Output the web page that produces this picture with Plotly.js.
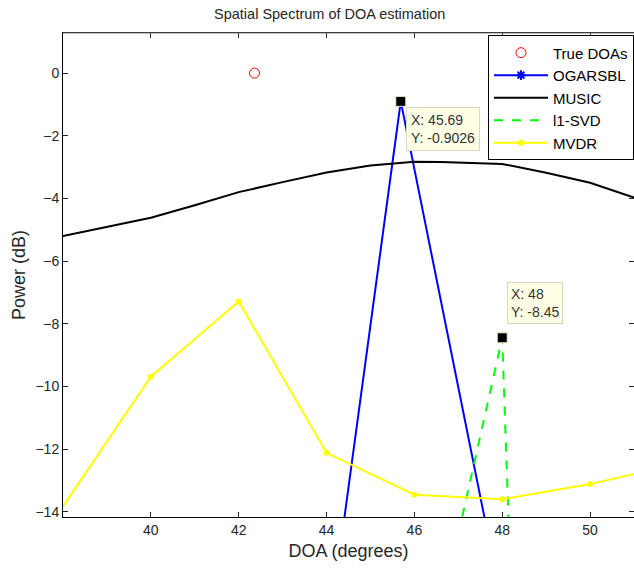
<!DOCTYPE html>
<html>
<head>
<meta charset="utf-8">
<script src="https://cdn.plot.ly/plotly-3.0.1.min.js"></script>
<style>body{margin:0;padding:0;background:#fff;} #chart{width:634px;height:570px;}</style>
</head>
<body>
<div id="chart"></div>
<script>
// ---- Data ----
var trueDoaX = [42.36];
var trueDoaY = [0];

var ogarsblX = [44, 45.69, 48];
var ogarsblY = [-18.4, -0.9026, -17.0];

var musicX = [38, 39, 40, 41, 42, 43, 44, 45, 46, 46.6, 47.4, 48, 49, 50, 51];
var musicY = [-5.2, -4.92, -4.62, -4.22, -3.8, -3.48, -3.17, -2.95, -2.83, -2.84, -2.87, -2.9, -3.18, -3.5, -3.97];

var l1svdX = [47, 48, 48.5];
var l1svdY = [-14.72, -8.45, -28.8];

var mvdrX = [37, 40, 42, 44, 46, 48, 50, 52];
var mvdrY = [-15.9, -9.69, -7.29, -12.12, -13.46, -13.6, -13.12, -12.48];

var tipX = [45.69, 48];
var tipY = [-0.9026, -8.45];
var tipText = ['X: 45.69<br>Y: -0.9026', 'X: 48<br>Y: -8.45'];

var xTicks = [40, 42, 44, 46, 48, 50];
var yTicks = [-14, -12, -10, -8, -6, -4, -2, 0];

var FONT = 'Liberation Sans, Arial, sans-serif';

var traces = [
  {x: trueDoaX, y: trueDoaY, name: 'True DOAs', mode: 'markers', type: 'scatter',
   marker: {symbol: 'circle-open', size: 10, color: '#ff0000', line: {width: 1, color: '#ff0000'}}},
  {x: ogarsblX, y: ogarsblY, name: 'OGARSBL', mode: 'lines+markers', type: 'scatter',
   line: {color: '#0000ff', width: 2},
   marker: {symbol: 'asterisk-open', size: 8, color: '#0000ff', line: {width: 2, color: '#0000ff'}}},
  {x: musicX, y: musicY, name: 'MUSIC', mode: 'lines', type: 'scatter',
   line: {color: '#000000', width: 2}},
  {x: l1svdX, y: l1svdY, name: 'l1-SVD', mode: 'lines', type: 'scatter',
   line: {color: '#00ff00', width: 2, dash: 'dash'}},
  {x: mvdrX, y: mvdrY, name: 'MVDR', mode: 'lines+markers', type: 'scatter',
   line: {color: '#ffff00', width: 2},
   marker: {symbol: 'circle', size: 6, color: '#ffff00'}},
  {x: tipX, y: tipY, mode: 'markers', type: 'scatter', showlegend: false, hoverinfo: 'skip',
   marker: {symbol: 'square', size: 10, color: '#000000', line: {width: 1, color: '#f2efc8'}}}
];

var annotations = [
  {x: tipX[0], y: tipY[0], xref: 'x', yref: 'y', text: tipText[0], showarrow: false,
   xanchor: 'left', yanchor: 'top', xshift: 5, yshift: -6, align: 'left',
   bgcolor: '#ffffe6', bordercolor: '#d8d8c0', borderwidth: 1, borderpad: 4,
   font: {family: FONT, size: 14, color: '#333333'}},
  {x: tipX[1], y: tipY[1], xref: 'x', yref: 'y', text: tipText[1], showarrow: false,
   xanchor: 'left', yanchor: 'bottom', xshift: 5, yshift: 14, align: 'left',
   bgcolor: '#ffffe6', bordercolor: '#d8d8c0', borderwidth: 1, borderpad: 3,
   font: {family: FONT, size: 14, color: '#333333'}}
];

var layout = {
  width: 634, height: 570,
  margin: {l: 63, r: 0, t: 33, b: 53},
  paper_bgcolor: '#ffffff', plot_bgcolor: '#ffffff',
  font: {family: FONT, color: '#262626'},
  title: {text: 'Spatial Spectrum of DOA estimation', x: 0.52, xanchor: 'center', y: 0.975, yanchor: 'middle',
          font: {family: FONT, size: 14.5, color: '#262626'}},
  xaxis: {range: [38, 51], tickvals: xTicks, ticks: 'inside', ticklen: 5, tickcolor: '#262626',
          showline: true, linecolor: '#000000', linewidth: 1, mirror: 'ticks', showgrid: false, zeroline: false,
          tickfont: {family: FONT, size: 14, color: '#262626'},
          title: {text: 'DOA (degrees)', font: {family: FONT, size: 18, color: '#262626'}, standoff: 7}},
  yaxis: {range: [-14.17, 1.28], tickvals: yTicks, ticks: 'inside', ticklen: 5, tickcolor: '#262626',
          showline: true, linecolor: '#000000', linewidth: 1, mirror: 'ticks', showgrid: false, zeroline: false,
          tickfont: {family: FONT, size: 14, color: '#262626'},
          title: {text: 'Power (dB)', font: {family: FONT, size: 18, color: '#262626'}, standoff: 5}},
  showlegend: true,
  legend: {x: 1, xanchor: 'right', y: 0.995, yanchor: 'top', bgcolor: '#ffffff',
           bordercolor: '#000000', borderwidth: 1, itemwidth: 54,
           font: {family: FONT, size: 15, color: '#000000'}},
  annotations: annotations,
  shapes: [
    {type: 'line', xref: 'paper', yref: 'paper', x0: 0, x1: 1, y0: 1, y1: 1,
     line: {color: '#7f7f7f', width: 1}, layer: 'above'}
  ]
};

Plotly.newPlot('chart', traces, layout, {displayModeBar: false, staticPlot: true});
</script>
</body>
</html>
